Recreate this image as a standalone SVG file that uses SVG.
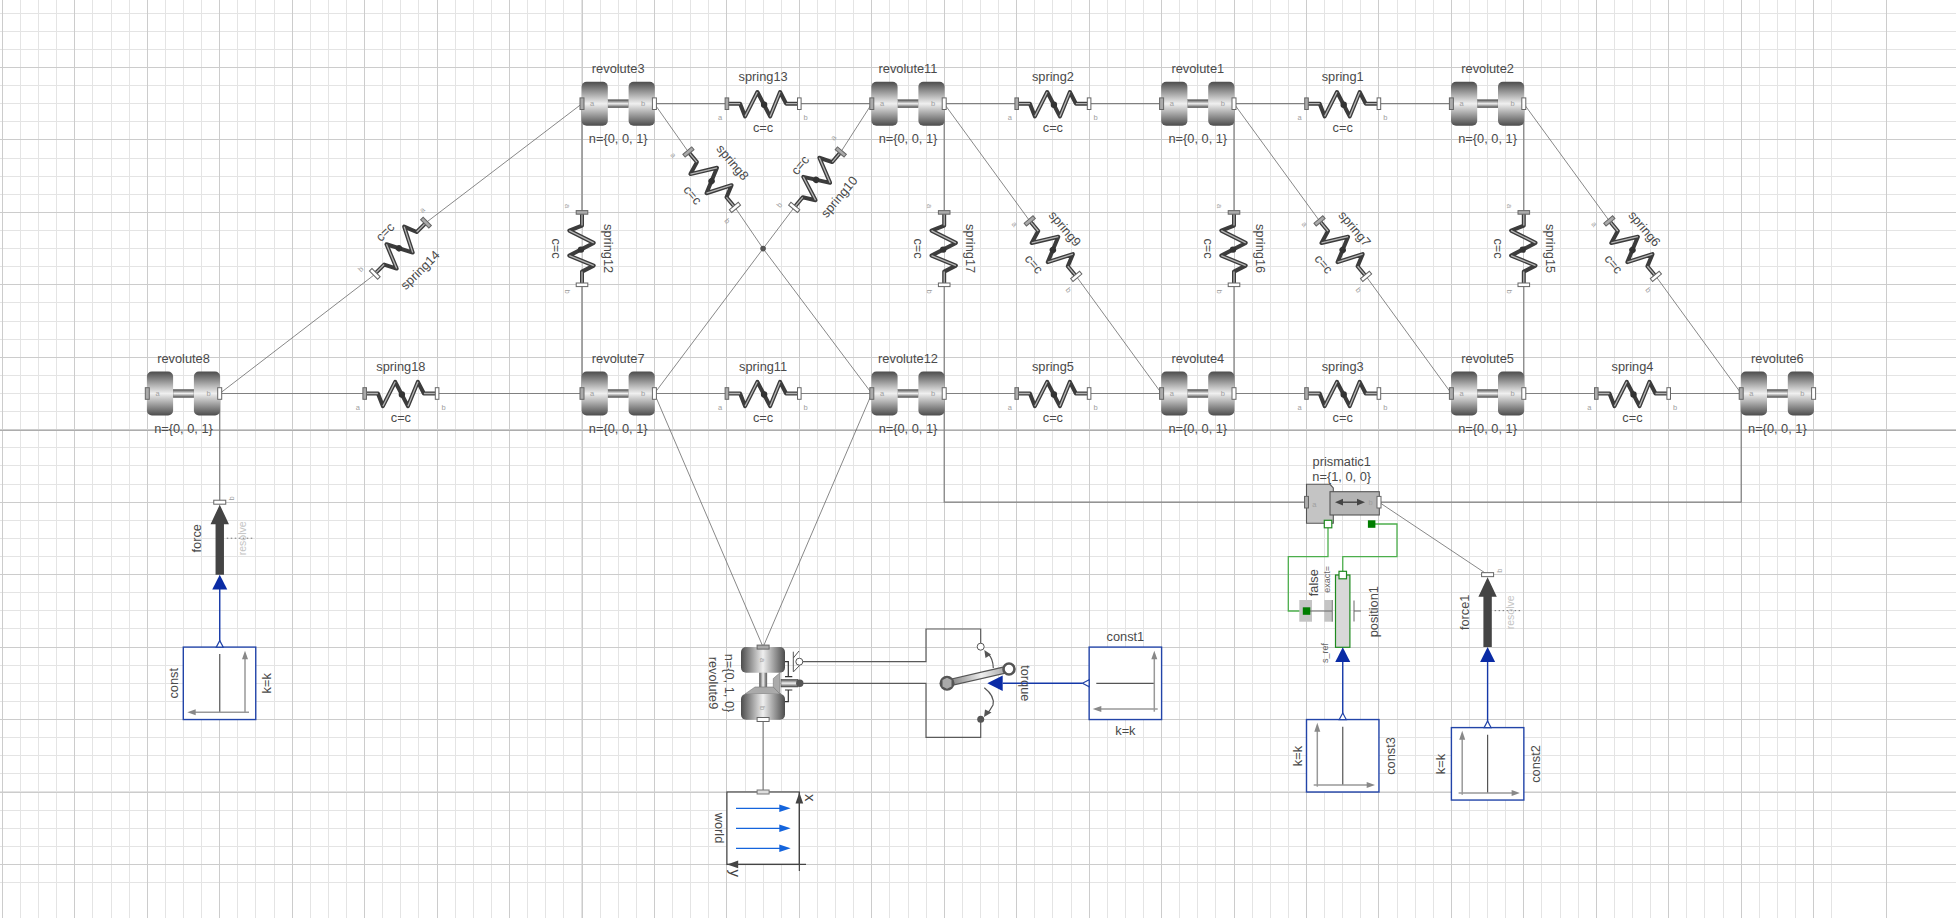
<svg xmlns="http://www.w3.org/2000/svg" width="1956" height="918" viewBox="0 0 1956 918">
<style>
text{font-family:"Liberation Sans",Arial,sans-serif;fill:#4a4a4a;font-size:12.8px;text-anchor:middle;dominant-baseline:central}
text.s{font-size:7.5px;fill:#a0a0a0}
text.r{font-size:10.5px;fill:#c4c4c4}
text.xy{font-size:15px;fill:#444}
.w{stroke:#808080;stroke-width:1.2;fill:none}
.d{stroke:#6a6a6a;stroke-width:.8;fill:none}
.k{stroke:#5a5a5a;stroke-width:1.2;fill:none}
.bl{stroke:#1438a8;stroke-width:1.4;fill:none}
.g{stroke:#4cae4c;stroke-width:1.3;fill:none}
.box{fill:#fff;stroke:#2244a8;stroke-width:1.4}
.ax{stroke:#999;stroke-width:1.5;fill:none}
.axh{fill:#888}
.cl{stroke:#555;stroke-width:1.2;fill:none}
.pa{fill:#aaa;stroke:#666;stroke-width:1}
.pb{fill:#fff;stroke:#666;stroke-width:1}
.bt{fill:#0a2ba5}
</style>
<defs>
<linearGradient id="gv" x1="0" y1="0" x2="0" y2="1"><stop offset="0" stop-color="#4c4c4c"/><stop offset=".5" stop-color="#efefef"/><stop offset="1" stop-color="#4c4c4c"/></linearGradient>
<linearGradient id="gh" x1="0" y1="0" x2="1" y2="0"><stop offset="0" stop-color="#4c4c4c"/><stop offset=".5" stop-color="#efefef"/><stop offset="1" stop-color="#4c4c4c"/></linearGradient>
<linearGradient id="gw" gradientUnits="userSpaceOnUse" x1="947" y1="683" x2="1005" y2="670"><stop offset="0" stop-color="#777"/><stop offset=".6" stop-color="#eee"/><stop offset="1" stop-color="#aaa"/></linearGradient>
<g id="rev">
<rect x="-10.5" y="-4" width="21" height="8" fill="url(#gv)" stroke="#666" stroke-width=".5"/>
<rect x="-36.6" y="-22" width="26.2" height="44" rx="5" fill="url(#gv)"/>
<rect x="10.4" y="-22" width="26.2" height="44" rx="5" fill="url(#gv)"/>
<rect class="pa" x="-38.2" y="-5.8" width="4" height="11.6"/>
<rect class="pb" x="34.2" y="-5.8" width="4" height="11.6"/>
<text class="s" x="-26" y="0">a</text><text class="s" x="25" y="0">b</text>
</g>
<g id="spr">
<path d="M-35 0H-23L-18 12.7L-5.7-11.7L7 12.7L17-11.7L23 0H35" fill="none" stroke="#3c3c3c" stroke-width="4" stroke-linejoin="round"/>
<path d="M-35 0H-23M-18 12.7L-5.7-11.7M7 12.7L17-11.7M23 0H35" fill="none" stroke="#b4b4b4" stroke-width="1.3"/>
<circle cx="1" cy="1" r="3.2" fill="#333"/>
<rect class="pa" x="-38" y="-5.8" width="3.6" height="11.6"/>
<rect class="pb" x="34.4" y="-5.8" width="3.6" height="11.6"/>
</g>
<g id="frc">
<path d="M0 2.5L9.2 22H4.2V72.45H-4.2V22H-9.2Z" fill="#444"/>
<rect class="pb" x="-6" y="-2" width="12" height="4"/>
<path d="M7 36H35" stroke="#777" stroke-width="1" stroke-dasharray="1.5 2.5" fill="none"/>
<path class="bt" d="M0 72.45L7.5 87.3H-7.5Z"/>
</g>
</defs>

<rect width="1956" height="918" fill="#fff"/>
<g id="grid" fill="none" shape-rendering="crispEdges">
<path stroke="#e4e4e4" stroke-width="1" d="M2.4 0V918m18.1125-918v918m18.1125-918v918m18.1125-918v918m18.1125-918v918m18.1125-918v918m18.1125-918v918m18.1125-918v918m18.1125-918v918m18.1125-918v918m18.1125-918v918m18.1125-918v918m18.1125-918v918m18.1125-918v918m18.1125-918v918m18.1125-918v918m18.1125-918v918m18.1125-918v918m18.1125-918v918m18.1125-918v918m18.1125-918v918m18.1125-918v918m18.1125-918v918m18.1125-918v918m18.1125-918v918m18.1125-918v918m18.1125-918v918m18.1125-918v918m18.1125-918v918m18.1125-918v918m18.1125-918v918m18.1125-918v918m18.1125-918v918m18.1125-918v918m18.1125-918v918m18.1125-918v918m18.1125-918v918m18.1125-918v918m18.1125-918v918m18.1125-918v918m18.1125-918v918m18.1125-918v918m18.1125-918v918m18.1125-918v918m18.1125-918v918m18.1125-918v918m18.1125-918v918m18.1125-918v918m18.1125-918v918m18.1125-918v918m18.1125-918v918m18.1125-918v918m18.1125-918v918m18.1125-918v918m18.1125-918v918m18.1125-918v918m18.1125-918v918m18.1125-918v918m18.1125-918v918m18.1125-918v918m18.1125-918v918m18.1125-918v918m18.1125-918v918m18.1125-918v918m18.1125-918v918m18.1125-918v918m18.1125-918v918m18.1125-918v918m18.1125-918v918m18.1125-918v918m18.1125-918v918m18.1125-918v918m18.1125-918v918m18.1125-918v918m18.1125-918v918m18.1125-918v918m18.1125-918v918m18.1125-918v918m18.1125-918v918m18.1125-918v918m18.1125-918v918m18.1125-918v918m18.1125-918v918m18.1125-918v918m18.1125-918v918m18.1125-918v918m18.1125-918v918m18.1125-918v918m18.1125-918v918m18.1125-918v918m18.1125-918v918m18.1125-918v918m18.1125-918v918m18.1125-918v918m18.1125-918v918m18.1125-918v918m18.1125-918v918m18.1125-918v918m18.1125-918v918m18.1125-918v918m18.1125-918v918m18.1125-918v918"/>
<path stroke="#e4e4e4" stroke-width="1" d="M0 13.16H1956m-1956 18.1125h1956m-1956 18.1125h1956m-1956 18.1125h1956m-1956 18.1125h1956m-1956 18.1125h1956m-1956 18.1125h1956m-1956 18.1125h1956m-1956 18.1125h1956m-1956 18.1125h1956m-1956 18.1125h1956m-1956 18.1125h1956m-1956 18.1125h1956m-1956 18.1125h1956m-1956 18.1125h1956m-1956 18.1125h1956m-1956 18.1125h1956m-1956 18.1125h1956m-1956 18.1125h1956m-1956 18.1125h1956m-1956 18.1125h1956m-1956 18.1125h1956m-1956 18.1125h1956m-1956 18.1125h1956m-1956 18.1125h1956m-1956 18.1125h1956m-1956 18.1125h1956m-1956 18.1125h1956m-1956 18.1125h1956m-1956 18.1125h1956m-1956 18.1125h1956m-1956 18.1125h1956m-1956 18.1125h1956m-1956 18.1125h1956m-1956 18.1125h1956m-1956 18.1125h1956m-1956 18.1125h1956m-1956 18.1125h1956m-1956 18.1125h1956m-1956 18.1125h1956m-1956 18.1125h1956m-1956 18.1125h1956m-1956 18.1125h1956m-1956 18.1125h1956m-1956 18.1125h1956m-1956 18.1125h1956m-1956 18.1125h1956m-1956 18.1125h1956m-1956 18.1125h1956"/>
<path stroke="#cccccc" stroke-width="1" d="M2.4 0V918m72.45-918v918m72.45-918v918m72.45-918v918m72.45-918v918m72.45-918v918m72.45-918v918m72.45-918v918m72.45-918v918m72.45-918v918m72.45-918v918m72.45-918v918m72.45-918v918m72.45-918v918m72.45-918v918m72.45-918v918m72.45-918v918m72.45-918v918m72.45-918v918m72.45-918v918m72.45-918v918m72.45-918v918m72.45-918v918m72.45-918v918m72.45-918v918m72.45-918v918m72.45-918v918"/>
<path stroke="#cccccc" stroke-width="1" d="M0 67.5H1956m-1956 72.45h1956m-1956 72.45h1956m-1956 72.45h1956m-1956 72.45h1956m-1956 72.45h1956m-1956 72.45h1956m-1956 72.45h1956m-1956 72.45h1956m-1956 72.45h1956m-1956 72.45h1956m-1956 72.45h1956"/>
<path stroke="#adadad" stroke-width="1" d="M0 430H1956"/>
</g>

<g id="connectors">
<path class="w" d="M654.4 103.7H726.9M799.3 103.7H871.8M944.2 103.7H1016.7M1089.1 103.7H1161.6M1234 103.7H1306.5M1378.9 103.7H1451.4"/>
<path class="w" d="M219.75 393.5H364.7M437.1 393.5H582M654.4 393.5H726.9M799.3 393.5H871.8M944.2 393.5H1016.7M1089.1 393.5H1161.6M1234 393.5H1306.5M1378.9 393.5H1451.4M1523.8 393.5H1596.3M1668.7 393.5H1741.2"/>
<path class="w" d="M582 103.7V212.4M582 284.8V393.5M944.2 103.7V212.4M944.2 284.8V393.5M1234 103.7V212.4M1234 284.8V393.5M1523.8 103.7V212.4M1523.8 284.8V393.5"/>
<path class="w" d="M944.2 393.5V502.2H1306.5M1379 502.2H1741.2V393.5M219.75 393.5V502.2M763.1 719.55V792"/>
<path class="d" d="M582 103.7L425.5 223M375.3 274L219.75 393.5"/>
<path class="d" d="M654.4 103.7L688.4 152M735 207.4L763.1 248.6L871.8 393.5M871.8 103.7L840.8 152M794.2 207.4L763.1 248.6L654.4 393.5"/>
<path class="d" d="M944.2 103.7L1029.7 220.9M1076.3 276.3L1161.6 393.5M1234 103.7L1319.5 220.9M1366.1 276.3L1451.4 393.5M1523.8 103.7L1609.3 220.9M1655.9 276.3L1741.2 393.5"/>
<path class="d" d="M654.4 393.5L763.1 647.1L871.8 393.5M1379 502.2L1487.6 574.65"/>
<circle cx="763.1" cy="248.6" r="2.8" fill="#555"/>
<path class="k" d="M799.3 661.7H926V629H980.7V646.7M801.7 683.3H926V737.3H980.7V719.3"/>
<path class="bl" d="M219.75 647V589M1487.6 727.6V661M1342.75 719.5V661M1002.7 683.3H1082.5"/>
<path class="g" d="M1328 524V556.7H1288.3V611H1306.7M1371.7 524H1397V556.7H1342.75V575"/>
</g>

<g id="revolute3"><use href="#rev" x="618.2" y="103.7"/><text x="618.2" y="68.7">revolute3</text><text x="618.2" y="138.3">n={0, 0, 1}</text></g>
<g id="revolute11"><use href="#rev" x="908" y="103.7"/><text x="908" y="68.7">revolute11</text><text x="908" y="138.3">n={0, 0, 1}</text></g>
<g id="revolute1"><use href="#rev" x="1197.8" y="103.7"/><text x="1197.8" y="68.7">revolute1</text><text x="1197.8" y="138.3">n={0, 0, 1}</text></g>
<g id="revolute2"><use href="#rev" x="1487.6" y="103.7"/><text x="1487.6" y="68.7">revolute2</text><text x="1487.6" y="138.3">n={0, 0, 1}</text></g>
<g id="revolute8"><use href="#rev" x="183.5" y="393.5"/><text x="183.5" y="358.7">revolute8</text><text x="183.5" y="428.5">n={0, 0, 1}</text></g>
<g id="revolute7"><use href="#rev" x="618.2" y="393.5"/><text x="618.2" y="358.7">revolute7</text><text x="618.2" y="428.5">n={0, 0, 1}</text></g>
<g id="revolute12"><use href="#rev" x="908" y="393.5"/><text x="908" y="358.7">revolute12</text><text x="908" y="428.5">n={0, 0, 1}</text></g>
<g id="revolute4"><use href="#rev" x="1197.8" y="393.5"/><text x="1197.8" y="358.7">revolute4</text><text x="1197.8" y="428.5">n={0, 0, 1}</text></g>
<g id="revolute5"><use href="#rev" x="1487.6" y="393.5"/><text x="1487.6" y="358.7">revolute5</text><text x="1487.6" y="428.5">n={0, 0, 1}</text></g>
<g id="revolute6"><use href="#rev" x="1777.4" y="393.5"/><text x="1777.4" y="358.7">revolute6</text><text x="1777.4" y="428.5">n={0, 0, 1}</text></g>

<g id="spring13"><use href="#spr" x="763.1" y="103.7"/><text x="763.1" y="76.7">spring13</text><text x="763.1" y="127.7">c=c</text><text class="s" x="720" y="117">a</text><text class="s" x="805.7" y="117">b</text></g>
<g id="spring2"><use href="#spr" x="1052.9" y="103.7"/><text x="1052.9" y="76.7">spring2</text><text x="1052.9" y="127.7">c=c</text><text class="s" x="1009.8" y="117">a</text><text class="s" x="1095.5" y="117">b</text></g>
<g id="spring1"><use href="#spr" x="1342.7" y="103.7"/><text x="1342.7" y="76.7">spring1</text><text x="1342.7" y="127.7">c=c</text><text class="s" x="1299.6" y="117">a</text><text class="s" x="1385.3" y="117">b</text></g>
<g id="spring18"><use href="#spr" x="400.9" y="393.5"/><text x="400.9" y="366.7">spring18</text><text x="400.9" y="417.7">c=c</text><text class="s" x="357.8" y="407">a</text><text class="s" x="443.5" y="407">b</text></g>
<g id="spring11"><use href="#spr" x="763.1" y="393.5"/><text x="763.1" y="366.7">spring11</text><text x="763.1" y="417.7">c=c</text><text class="s" x="720" y="407">a</text><text class="s" x="805.7" y="407">b</text></g>
<g id="spring5"><use href="#spr" x="1052.9" y="393.5"/><text x="1052.9" y="366.7">spring5</text><text x="1052.9" y="417.7">c=c</text><text class="s" x="1009.8" y="407">a</text><text class="s" x="1095.5" y="407">b</text></g>
<g id="spring3"><use href="#spr" x="1342.7" y="393.5"/><text x="1342.7" y="366.7">spring3</text><text x="1342.7" y="417.7">c=c</text><text class="s" x="1299.6" y="407">a</text><text class="s" x="1385.3" y="407">b</text></g>
<g id="spring4"><use href="#spr" x="1632.5" y="393.5"/><text x="1632.5" y="366.7">spring4</text><text x="1632.5" y="417.7">c=c</text><text class="s" x="1589.4" y="407">a</text><text class="s" x="1675.1" y="407">b</text></g>

<g id="spring12"><use href="#spr" transform="translate(582 248.6) rotate(90)"/><text transform="translate(608.3 248.6) rotate(90)">spring12</text><text transform="translate(556.7 248.6) rotate(90)">c=c</text><text class="s" transform="translate(567.7 206) rotate(90)">a</text><text class="s" transform="translate(567.7 291.7) rotate(90)">b</text></g>
<g id="spring17"><use href="#spr" transform="translate(944.2 248.6) rotate(90)"/><text transform="translate(970.5 248.6) rotate(90)">spring17</text><text transform="translate(918.9 248.6) rotate(90)">c=c</text><text class="s" transform="translate(929.9 206) rotate(90)">a</text><text class="s" transform="translate(929.9 291.7) rotate(90)">b</text></g>
<g id="spring16"><use href="#spr" transform="translate(1234 248.6) rotate(90)"/><text transform="translate(1260.3 248.6) rotate(90)">spring16</text><text transform="translate(1208.7 248.6) rotate(90)">c=c</text><text class="s" transform="translate(1219.7 206) rotate(90)">a</text><text class="s" transform="translate(1219.7 291.7) rotate(90)">b</text></g>
<g id="spring15"><use href="#spr" transform="translate(1523.8 248.6) rotate(90)"/><text transform="translate(1550.1 248.6) rotate(90)">spring15</text><text transform="translate(1498.5 248.6) rotate(90)">c=c</text><text class="s" transform="translate(1509.5 206) rotate(90)">a</text><text class="s" transform="translate(1509.5 291.7) rotate(90)">b</text></g>

<g id="spring8"><use href="#spr" transform="translate(711.7 179.7) rotate(50)"/><text transform="translate(732.7 162.3) rotate(50)">spring8</text><text transform="translate(692.7 195) rotate(50)">c=c</text><text class="s" transform="translate(673.3 155.3) rotate(50)">a</text><text class="s" transform="translate(727.3 221) rotate(50)">b</text></g>
<g id="spring9"><use href="#spr" transform="translate(1053 248.6) rotate(50)"/><text transform="translate(1065 228.6) rotate(50)">spring9</text><text transform="translate(1034 263.9) rotate(50)">c=c</text><text class="s" transform="translate(1014.6 224.2) rotate(50)">a</text><text class="s" transform="translate(1068.6 289.9) rotate(50)">b</text></g>
<g id="spring7"><use href="#spr" transform="translate(1342.8 248.6) rotate(50)"/><text transform="translate(1354.8 228.6) rotate(50)">spring7</text><text transform="translate(1323.8 263.9) rotate(50)">c=c</text><text class="s" transform="translate(1304.4 224.2) rotate(50)">a</text><text class="s" transform="translate(1358.4 289.9) rotate(50)">b</text></g>
<g id="spring6"><use href="#spr" transform="translate(1632.6 248.6) rotate(50)"/><text transform="translate(1644.6 228.6) rotate(50)">spring6</text><text transform="translate(1613.6 263.9) rotate(50)">c=c</text><text class="s" transform="translate(1594.2 224.2) rotate(50)">a</text><text class="s" transform="translate(1648.2 289.9) rotate(50)">b</text></g>
<g id="spring10"><use href="#spr" transform="translate(817.5 179.7) rotate(130)"/><text transform="translate(839 196.7) rotate(-50)">spring10</text><text transform="translate(800 165) rotate(-50)">c=c</text><text class="s" transform="translate(833.3 137.7) rotate(-50)">a</text><text class="s" transform="translate(779.3 205) rotate(-50)">b</text></g>
<g id="spring14"><use href="#spr" transform="translate(400.4 248.3) rotate(135)"/><text transform="translate(420 270) rotate(-45)">spring14</text><text transform="translate(385 232) rotate(-45)">c=c</text><text class="s" transform="translate(422.3 210) rotate(-45)">a</text><text class="s" transform="translate(360.7 269.3) rotate(-45)">b</text></g>

<g id="force"><use href="#frc" x="219.75" y="502.2"/><text transform="translate(196.7 538.3) rotate(-90)">force</text><text class="r" transform="translate(242.3 538.3) rotate(-90)">resolve</text><text class="s" transform="translate(231.7 498.3) rotate(-90)">b</text></g>
<g id="force1"><use href="#frc" x="1487.6" y="574.65"/><text transform="translate(1464.3 612.3) rotate(-90)">force1</text><text class="r" transform="translate(1510 612.3) rotate(-90)">resolve</text><text class="s" transform="translate(1499 570.7) rotate(-90)">b</text></g>

<g id="const">
<rect class="box" x="183.3" y="647.1" width="72.45" height="72.45"/>
<path class="cl" d="M219.75 654V712.3"/><path class="ax" d="M249 712.3H195"/><path class="axh" d="M187.3 712.3L195.7 709.3V715.3Z"/><path class="ax" d="M245 713V659"/><path class="axh" d="M245 650.7L248 659.3H242Z"/>
<path d="M216.25 647.1L219.75 640.6L223.25 647.1Z" fill="#fff" stroke="#2244a8" stroke-width="1.2"/>
<text transform="translate(173.3 683.3) rotate(-90)">const</text><text transform="translate(266.7 683.3) rotate(-90)">k=k</text>
</g>
<g id="const1">
<rect class="box" x="1089.15" y="647.1" width="72.45" height="72.45"/>
<path class="cl" d="M1096.3 683.3H1154.3"/><path class="ax" d="M1154.3 711.7V659"/><path class="axh" d="M1154.3 650.7L1157.3 659.3H1151.3Z"/><path class="ax" d="M1157.7 709H1101"/><path class="axh" d="M1092.7 709L1101.3 706V712Z"/>
<path d="M1089.15 679.8L1082.5 683.3L1089.15 686.8Z" fill="#fff" stroke="#2244a8" stroke-width="1.2"/>
<text x="1125.4" y="636.7">const1</text><text x="1125.4" y="730.7">k=k</text>
</g>
<g id="const3">
<rect class="box" x="1306.5" y="719.55" width="72.45" height="72.45"/>
<path class="cl" d="M1342.75 726.7V785"/><path class="ax" d="M1317.3 786.7V731"/><path class="axh" d="M1317.3 722.7L1320.3 731.7H1314.3Z"/><path class="ax" d="M1313.7 785H1367"/><path class="axh" d="M1375 785L1366.7 782V788Z"/>
<path d="M1339.25 719.55L1342.75 713L1346.25 719.55Z" fill="#fff" stroke="#2244a8" stroke-width="1.2"/>
<text transform="translate(1390.7 756) rotate(-90)">const3</text><text transform="translate(1297 756) rotate(-90)">k=k</text>
</g>
<g id="const2">
<rect class="box" x="1451.4" y="727.6" width="72.45" height="72.45"/>
<path class="cl" d="M1487.6 734.7V793"/><path class="ax" d="M1462.2 794.7V739"/><path class="axh" d="M1462.2 730.7L1465.2 739.7H1459.2Z"/><path class="ax" d="M1458.6 793H1512"/><path class="axh" d="M1519.9 793L1511.6 790V796Z"/>
<path d="M1484.1 727.6L1487.6 721L1491.1 727.6Z" fill="#fff" stroke="#2244a8" stroke-width="1.2"/>
<text transform="translate(1535.7 764) rotate(-90)">const2</text><text transform="translate(1440.7 764) rotate(-90)">k=k</text>
</g>

<g id="world">
<rect x="726.9" y="792" width="72.45" height="72.45" fill="#fff" stroke="#444" stroke-width="1.2"/>
<path d="M799.35 792V871M726.9 864.45H806" stroke="#444" stroke-width="1.2" fill="none"/>
<path d="M799.35 792.6L803.2 803.5H795.5Z" fill="#444"/><path d="M727.3 864.45L738.2 860.6V868.3Z" fill="#444"/>
<path d="M736 808.3H780M736 828.3H780M736 848.3H780" stroke="#1464dc" stroke-width="1.2" fill="none"/>
<path d="M790.7 808.3L779.3 804.6V812ZM790.7 828.3L779.3 824.6V832ZM790.7 848.3L779.3 844.6V852Z" fill="#1464dc"/>
<rect x="757.1" y="790" width="12" height="4" fill="#ddd" stroke="#777" stroke-width="1"/>
<text class="xy" transform="translate(810 797.7) rotate(90)">x</text><text class="xy" transform="translate(735 873.3) rotate(90)">y</text><text transform="translate(719 828) rotate(90)">world</text>
</g>

<g id="revolute9">
<rect x="759.3" y="672" width="7.6" height="22" fill="url(#gh)" stroke="#777" stroke-width=".5"/>
<path d="M745 694L755 687H773L781 694Z" fill="#aaa" stroke="#777" stroke-width=".6"/>
<path d="M773.3 678.5L780 672.7V694L773.3 687Z" fill="#aaa" stroke="#777" stroke-width=".6"/>
<rect x="741" y="647" width="44" height="25.7" rx="5" fill="url(#gh)"/>
<rect x="741" y="694" width="44" height="25.7" rx="5" fill="url(#gh)"/>
<rect x="757.1" y="645.1" width="12" height="4" class="pa"/>
<rect x="757.1" y="717.5" width="12" height="4" class="pb"/>
<text class="s" transform="translate(762 660) rotate(90)">a</text><text class="s" transform="translate(762 708) rotate(90)">b</text>
<rect x="781" y="679.4" width="17" height="7.6" fill="url(#gv)" stroke="#444" stroke-width=".5"/>
<circle cx="799.8" cy="683.3" r="3.7" fill="#555"/>
<path d="M785 661.7H788.3V676.7M785 676.7H792.3M785 701.7H788.3V690M785 690H792.3" stroke="#333" stroke-width="1.2" fill="none"/>
<path d="M793.3 651.7V671.7M793.3 658L799 651M793.3 672L800 665" stroke="#555" stroke-width="1" fill="none"/>
<circle cx="799.3" cy="661.7" r="3.5" fill="#fff" stroke="#555" stroke-width="1"/>
<text transform="translate(729 683) rotate(90)">n={0, 1, 0}</text><text transform="translate(713.3 683) rotate(90)">revolute9</text>
</g>

<g id="torque">
<path d="M946.7 683.3L1009 669" stroke="#555" stroke-width="7.5" fill="none"/>
<path d="M948 683L1005 670" stroke="url(#gw)" stroke-width="5" fill="none"/>
<circle cx="947" cy="683.3" r="7.5" fill="#555"/><path d="M942.5 680L947 677.8L951.5 680V686.5L947 688.8L942.5 686.5Z" fill="#aaa"/>
<circle cx="1009" cy="669" r="5.5" fill="#fff" stroke="#555" stroke-width="2.6"/>
<path d="M993.3 668Q993 658 987.5 653.5M984.3 687.7Q995 696 993 705Q990 711 986 714.5" stroke="#555" stroke-width="1.2" fill="none"/>
<path d="M984.3 650L991 654.5L985.5 658ZM984 717L985 709.5L991.5 712.5Z" fill="#555"/>
<circle cx="980.7" cy="646.7" r="3.5" fill="#fff" stroke="#555" stroke-width="1"/>
<circle cx="980.7" cy="719.3" r="3.5" fill="#555"/>
<path class="bt" d="M987.3 683.3L1002.7 675.5V691Z"/>
<text transform="translate(1025 683.3) rotate(90)">torque</text>
</g>

<g id="prismatic1">
<path d="M1306.5 484.3H1330L1333.3 488V523.3H1306.5Z" fill="#c4c4c4" stroke="#555" stroke-width="1.1"/>
<rect x="1330" y="491.7" width="49.3" height="23.3" fill="#b4b4b4" stroke="#555" stroke-width="1.1"/>
<path d="M1340 502.2H1360" stroke="#444" stroke-width="1.4" fill="none"/><path d="M1335 502.2L1343 498.8V505.6ZM1365 502.2L1357 498.8V505.6Z" fill="#444"/>
<rect class="pa" x="1304.5" y="496.4" width="4" height="11.6"/><rect class="pb" x="1377" y="496.4" width="4" height="11.6"/>
<text class="s" x="1314.3" y="504">a</text><text class="s" x="1370.7" y="502.5">b</text>
<rect x="1324.3" y="520.3" width="7.5" height="7.5" fill="#fff" stroke="#1e8a1e" stroke-width="1.2"/>
<rect x="1367.9" y="520.3" width="7.5" height="7.5" fill="#007d00"/>
<text x="1341.7" y="461">prismatic1</text><text x="1341.7" y="476">n={1, 0, 0}</text>
</g>

<g id="position1">
<rect x="1335.5" y="575" width="14.4" height="72.3" fill="#d8d8d8" stroke="#1e8a1e" stroke-width="1.2"/>
<rect x="1299.3" y="600" width="12.7" height="21.7" fill="#c4c4c4"/>
<rect x="1324.3" y="600" width="8" height="21.7" fill="#c4c4c4"/><path d="M1332.3 600V621.7" stroke="#777" stroke-width="1" fill="none"/>
<path d="M1310 611H1332M1354 600.5V621.5M1354 611H1361" stroke="#666" stroke-width="1" fill="none"/>
<rect x="1302.8" y="607.3" width="7.5" height="7.5" fill="#007d00"/>
<rect x="1339" y="571.3" width="7.5" height="7.5" fill="#fff" stroke="#1e8a1e" stroke-width="1.2"/>
<path class="bt" d="M1342.75 647.3L1350.25 662H1335.25Z"/>
<text transform="translate(1313.3 582.7) rotate(-90)">false</text>
<text transform="translate(1327.3 579.3) rotate(-90)" style="font-size:9px;fill:#666">exact=</text>
<text transform="translate(1373.3 611.7) rotate(-90)">position1</text>
<text transform="translate(1325 653) rotate(-90)" style="font-size:9px;fill:#666">s_ref</text>
</g>
</svg>
